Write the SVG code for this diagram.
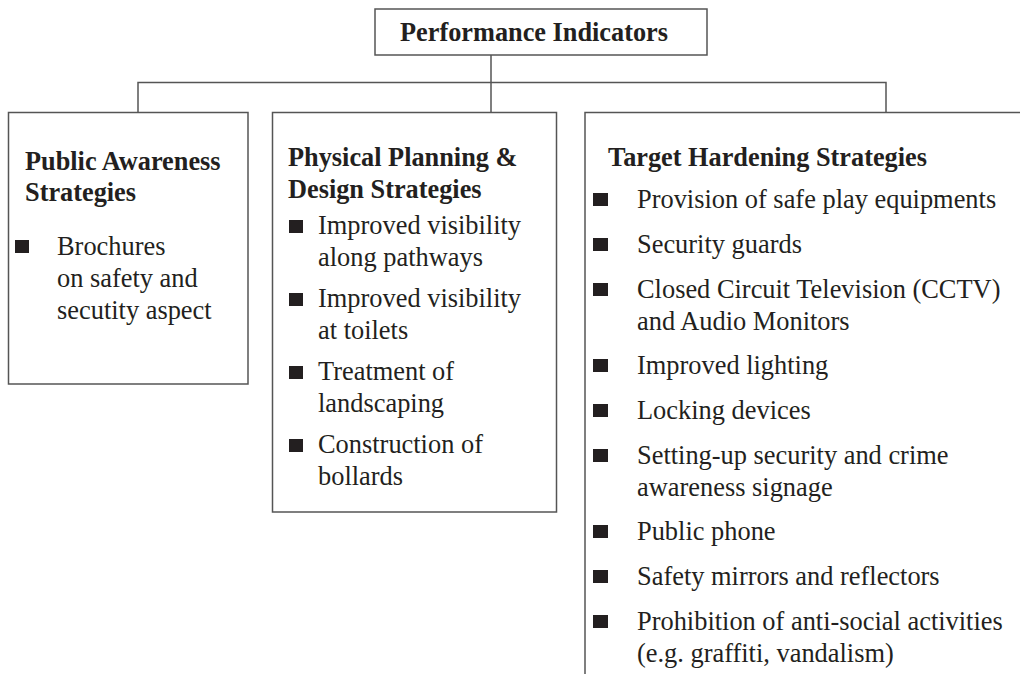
<svg xmlns="http://www.w3.org/2000/svg" width="1020" height="674" viewBox="0 0 1020 674">
<style>
.box{fill:#fff;stroke:#555;stroke-width:1.5}
.ln{fill:none;stroke:#555;stroke-width:1.5}
.h{font-family:"Liberation Serif","Times New Roman",serif;font-weight:bold;font-size:26.3px;fill:#231f20}
.t{font-family:"Liberation Serif","Times New Roman",serif;font-size:26.4px;fill:#231f20}
.b{fill:#231f20}
</style>
<rect width="1020" height="674" fill="#fff"/>
<g id="connectors">
<path class="ln" d="M491,55 V112"/>
<path class="ln" d="M138,112 V82.5 H886 V112"/>
</g>
<g id="top">
<rect class="box" x="375" y="9" width="332" height="46"/>
<text class="h" x="400" y="41">Performance Indicators</text>
</g>
<g id="public-awareness">
<rect class="box" x="8.5" y="112.5" width="239.5" height="271.5"/>
<text class="h" x="25" y="170">Public Awareness</text>
<text class="h" x="25" y="201">Strategies</text>
<rect class="b" x="15" y="240" width="14" height="13"/>
<text class="t" x="57" y="255">Brochures</text>
<text class="t" x="57" y="287">on safety and</text>
<text class="t" x="57" y="319">secutity aspect</text>
</g>
<g id="physical-planning">
<rect class="box" x="272.5" y="112.5" width="284" height="399.5"/>
<text class="h" x="288" y="166">Physical Planning &amp;</text>
<text class="h" x="288" y="198">Design Strategies</text>
<rect class="b" x="289" y="220" width="14" height="13"/>
<text class="t" x="318" y="234">Improved visibility</text>
<text class="t" x="318" y="266">along pathways</text>
<rect class="b" x="289" y="293" width="14" height="13"/>
<text class="t" x="318" y="307">Improved visibility</text>
<text class="t" x="318" y="339">at toilets</text>
<rect class="b" x="289" y="366" width="14" height="13"/>
<text class="t" x="318" y="380">Treatment of</text>
<text class="t" x="318" y="412">landscaping</text>
<rect class="b" x="289" y="439" width="14" height="13"/>
<text class="t" x="318" y="453">Construction of</text>
<text class="t" x="318" y="485">bollards</text>
</g>
<g id="target-hardening">
<path class="ln" d="M585,674 V112.5 H1020"/>
<text class="h" x="608" y="166">Target Hardening Strategies</text>
<rect class="b" x="593" y="193" width="15" height="13"/>
<text class="t" x="637" y="208">Provision of safe play equipments</text>
<rect class="b" x="593" y="238" width="15" height="13"/>
<text class="t" x="637" y="253">Security guards</text>
<rect class="b" x="593" y="283" width="15" height="13"/>
<text class="t" x="637" y="298">Closed Circuit Television (CCTV)</text>
<text class="t" x="637" y="330">and Audio Monitors</text>
<rect class="b" x="593" y="359" width="15" height="13"/>
<text class="t" x="637" y="374">Improved lighting</text>
<rect class="b" x="593" y="404" width="15" height="13"/>
<text class="t" x="637" y="419">Locking devices</text>
<rect class="b" x="593" y="449" width="15" height="13"/>
<text class="t" x="637" y="464">Setting-up security and crime</text>
<text class="t" x="637" y="496">awareness signage</text>
<rect class="b" x="593" y="525" width="15" height="13"/>
<text class="t" x="637" y="540">Public phone</text>
<rect class="b" x="593" y="570" width="15" height="13"/>
<text class="t" x="637" y="585">Safety mirrors and reflectors</text>
<rect class="b" x="593" y="615" width="15" height="13"/>
<text class="t" x="637" y="630">Prohibition of anti-social activities</text>
<text class="t" x="637" y="662">(e.g. graffiti, vandalism)</text>
</g>
</svg>
